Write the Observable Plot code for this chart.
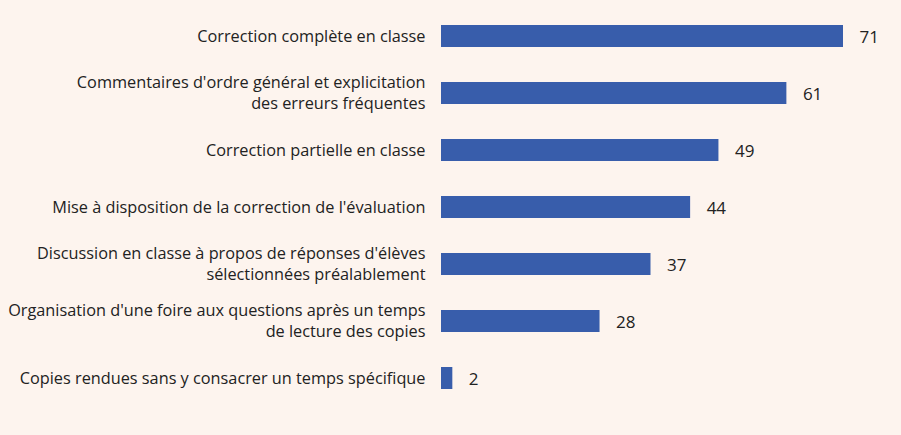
<!DOCTYPE html>
<html>
<head>
<meta charset="utf-8">
<script src="https://cdn.jsdelivr.net/npm/d3@7"></script>
<script src="https://cdn.jsdelivr.net/npm/@observablehq/plot@0.6"></script>
<style>
  html, body { margin: 0; padding: 0; background: #fdf4ee; }
  #chart svg { display: block; }
</style>
</head>
<body>
<div id="chart"></div>
<script>
const categories = [
  "Correction complète en classe",
  "Commentaires d'ordre général et explicitation\ndes erreurs fréquentes",
  "Correction partielle en classe",
  "Mise à disposition de la correction de l'évaluation",
  "Discussion en classe à propos de réponses d'élèves\nsélectionnées préalablement",
  "Organisation d'une foire aux questions après un temps\nde lecture des copies",
  "Copies rendues sans y consacrer un temps spécifique"
];
const values = [71, 61, 49, 44, 37, 28, 2];

const data = categories.map((c, i) => ({category: c, value: values[i]}));

const chart = Plot.plot({
  width: 901,
  height: 435,
  marginLeft: 441,
  marginRight: 58,
  marginTop: 0,
  marginBottom: 22,
  style: {background: "#fdf4ee", fontFamily: "'Open Sans', 'Noto Sans', sans-serif", color: "#1e1e1e"},
  x: {domain: [0, 71], axis: null},
  y: {domain: categories, paddingInner: 0.615, paddingOuter: 0.42, axis: null, label: null},
  marks: [
    Plot.text(data, {x: 0, y: "category", text: "category", textAnchor: "end", dx: -16, dy: -2, fontSize: 16.3, lineHeight: 1.34, fill: "#222222"}),
    Plot.barX(data, {x: "value", y: "category", fill: "#385dab"}),
    Plot.text(data, {x: "value", y: "category", text: d => String(d.value), textAnchor: "start", dx: 16, dy: 1, fontSize: 17, fill: "#222222"})
  ]
});
document.getElementById("chart").appendChild(chart);
</script>
</body>
</html>
